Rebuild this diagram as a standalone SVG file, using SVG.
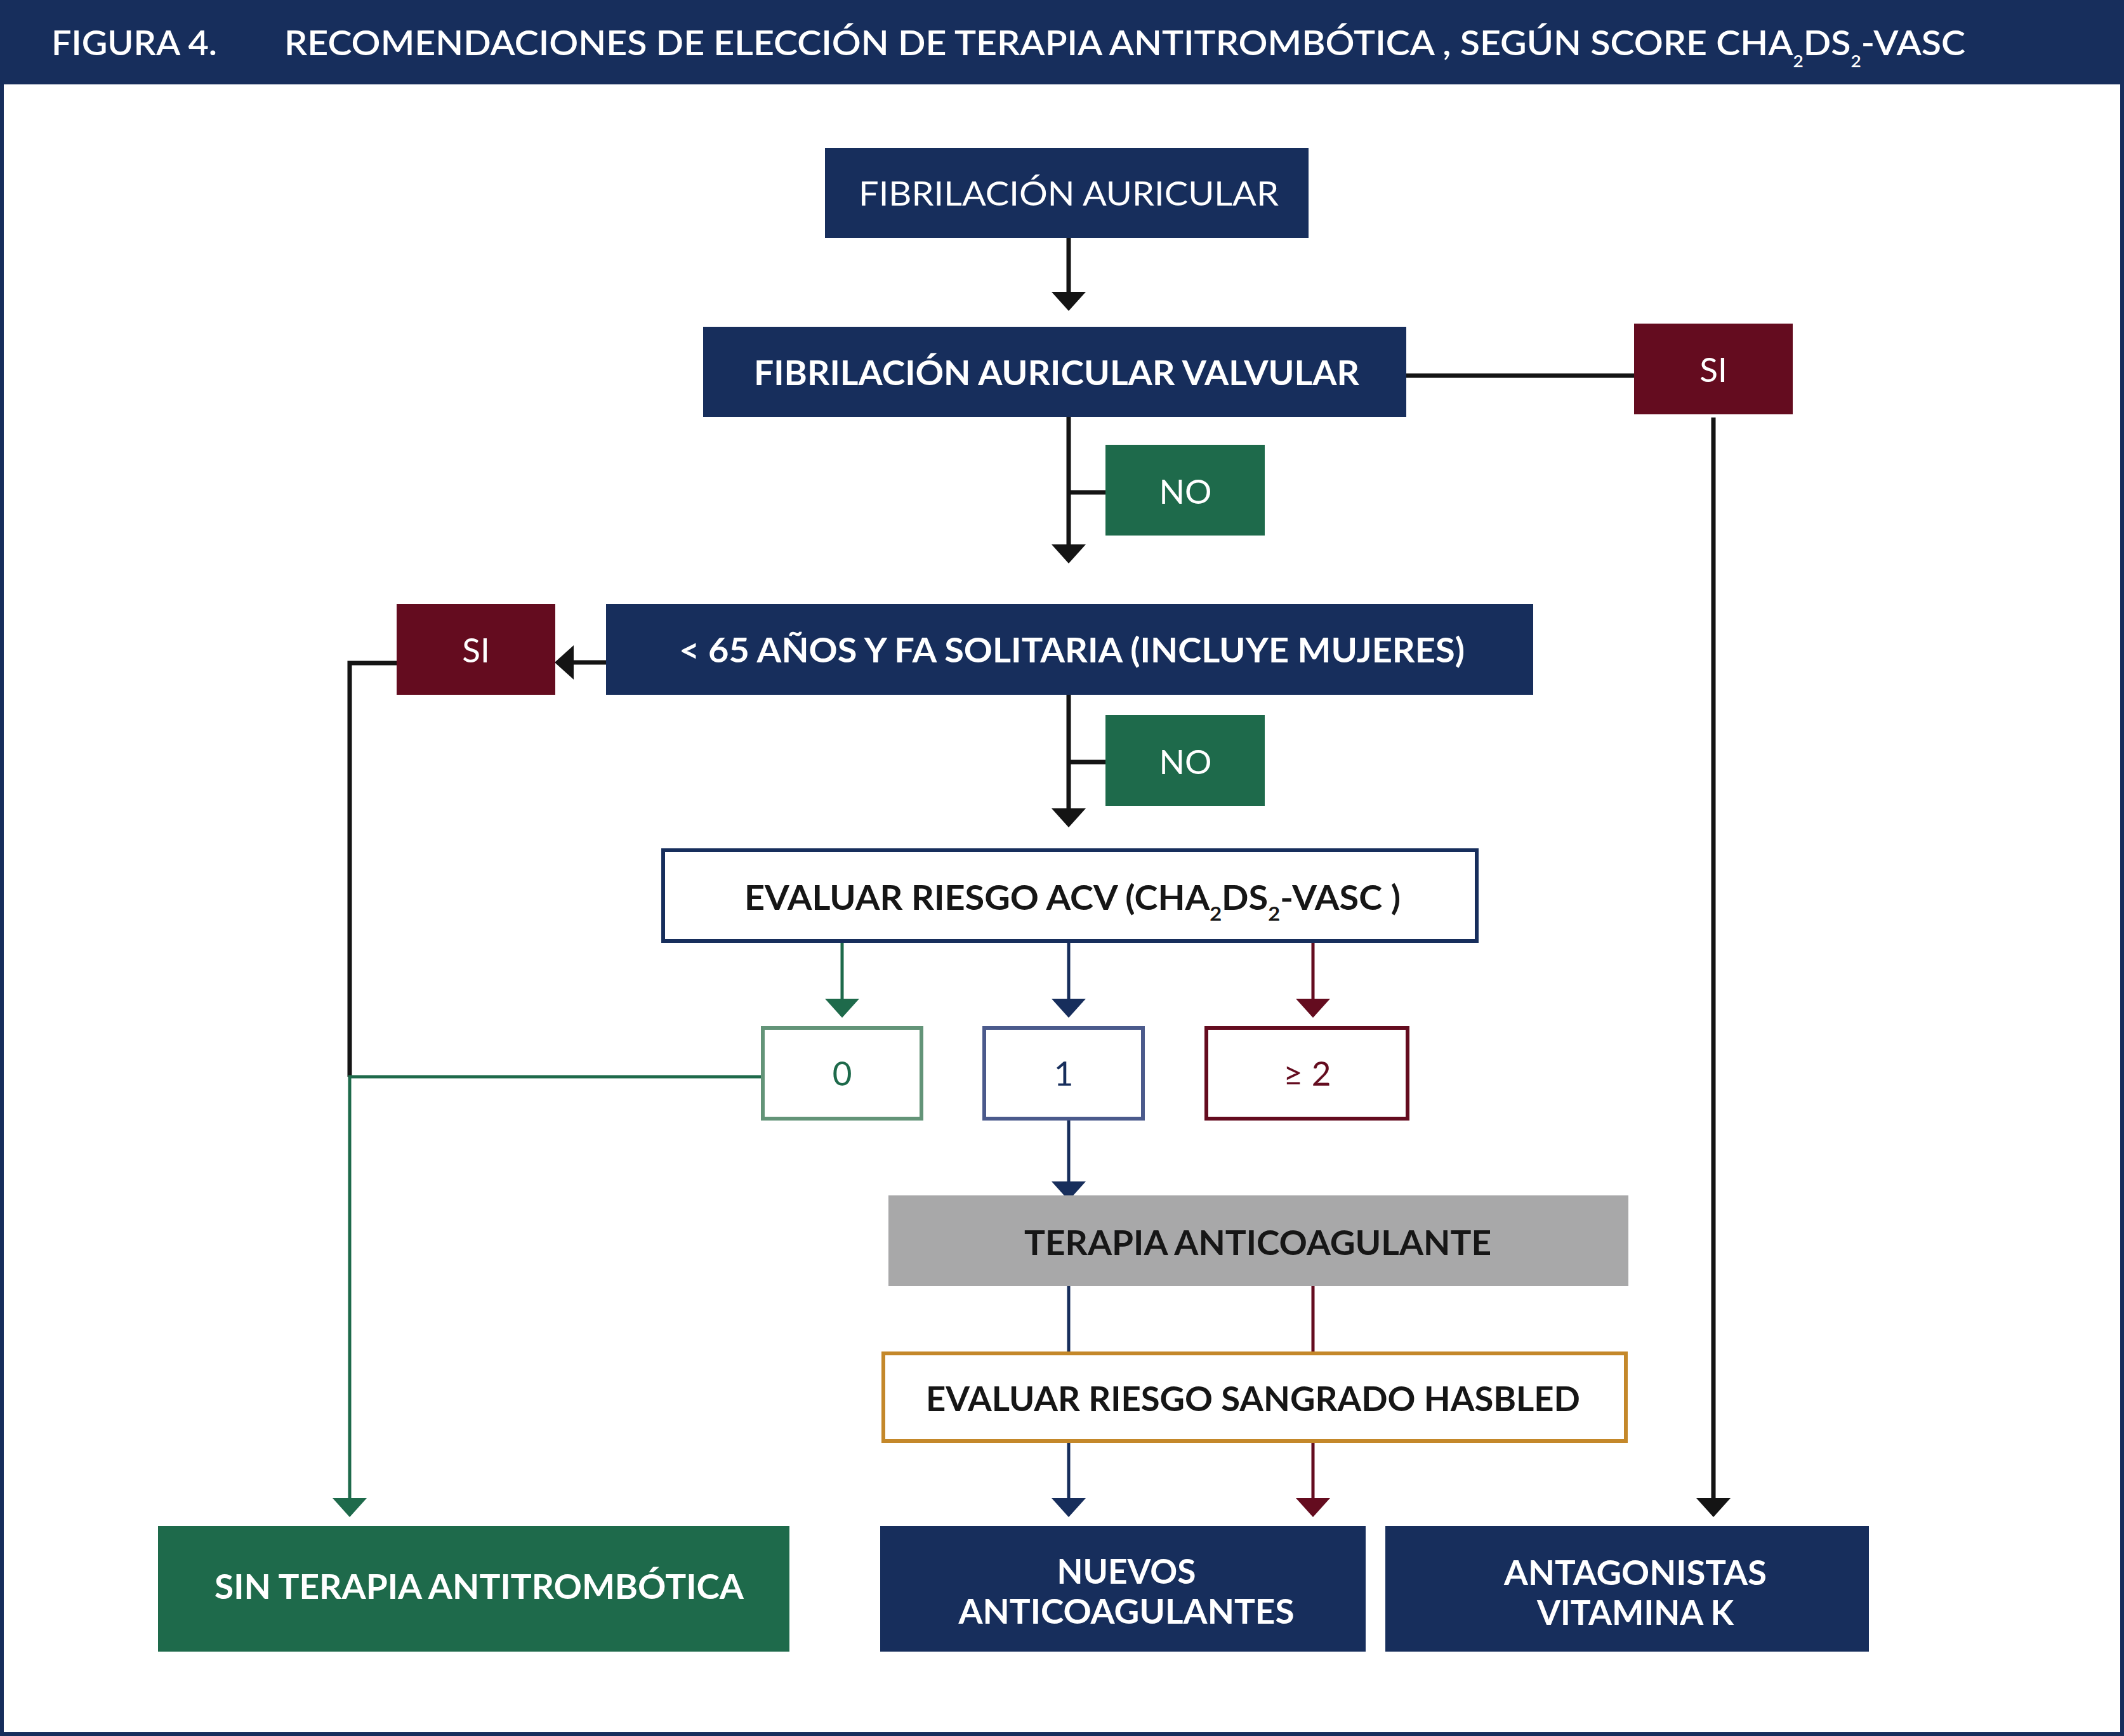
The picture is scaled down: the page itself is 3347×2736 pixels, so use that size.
<svg xmlns="http://www.w3.org/2000/svg" width="3347" height="2736" viewBox="0 0 3347 2736">
<style>
.t{font-family:Lato,"Open Sans","Liberation Sans",sans-serif;font-size:53px;}
.w{fill:#ffffff;}
.k{fill:#161616;}
.b{font-weight:700;}
.r{font-weight:400;}
.navy{fill:#172e5c;}
.red{fill:#640c1f;}
.green{fill:#1e6a4b;}
.gray{fill:#a8a8a9;}
.blk{stroke:#141414;stroke-width:7;fill:none;}
.cg{stroke:#1e6a4b;stroke-width:5;fill:none;}
.cn{stroke:#172e5c;stroke-width:5;fill:none;}
.cr{stroke:#640c1f;stroke-width:5;fill:none;}
</style>
<defs>
<marker id="ak" markerUnits="userSpaceOnUse" markerWidth="31" markerHeight="56" viewBox="0 -28 31 56" refX="0" refY="0" orient="auto"><path d="M0,-27 L30,0 L0,27 Z" fill="#141414"/></marker>
<marker id="ag" markerUnits="userSpaceOnUse" markerWidth="31" markerHeight="56" viewBox="0 -28 31 56" refX="0" refY="0" orient="auto"><path d="M0,-27 L30,0 L0,27 Z" fill="#1e6a4b"/></marker>
<marker id="an" markerUnits="userSpaceOnUse" markerWidth="31" markerHeight="56" viewBox="0 -28 31 56" refX="0" refY="0" orient="auto"><path d="M0,-27 L30,0 L0,27 Z" fill="#172e5c"/></marker>
<marker id="ar" markerUnits="userSpaceOnUse" markerWidth="31" markerHeight="56" viewBox="0 -28 31 56" refX="0" refY="0" orient="auto"><path d="M0,-27 L30,0 L0,27 Z" fill="#640c1f"/></marker>
</defs>
<rect x="0" y="0" width="3347" height="2736" fill="#ffffff"/>
<rect x="3" y="3" width="3341" height="2730" fill="none" stroke="#172e5c" stroke-width="6"/>
<g id="header">
<rect x="0" y="0" width="3347" height="133" class="navy"/>
<text class="t w" font-weight="600" font-size="58" x="81" y="87" textLength="261" lengthAdjust="spacingAndGlyphs">FIGURA 4.</text>
<text class="t w" font-weight="600" font-size="58" x="448" y="87" textLength="2649" lengthAdjust="spacingAndGlyphs">RECOMENDACIONES DE ELECCIÓN DE TERAPIA ANTITROMBÓTICA , SEGÚN SCORE CHA<tspan font-size="26" dy="19">2</tspan><tspan dy="-19">DS</tspan><tspan font-size="26" dy="19">2</tspan><tspan dy="-19">-VASC</tspan></text>
</g>
<g id="connectors">
<path class="blk" d="M1684,375 V460" marker-end="url(#ak)"/>
<path class="blk" d="M2216,592 H2575"/>
<path class="blk" d="M1684,657 V858" marker-end="url(#ak)"/>
<path class="blk" d="M1684,776 H1742"/>
<path class="blk" d="M2700,658 V2361" marker-end="url(#ak)"/>
<path class="blk" d="M955,1044 H904" marker-end="url(#ak)"/>
<path class="blk" d="M625,1045 H551 V1697"/>
<path class="blk" d="M1684,1095 V1274" marker-end="url(#ak)"/>
<path class="blk" d="M1684,1201 H1742"/>
<path class="cg" d="M1199,1697 H551 V2361" stroke-width="6" marker-end="url(#ag)"/>
<path class="cg" d="M1327,1486 V1574" marker-end="url(#ag)"/>
<path class="cn" d="M1684,1486 V1574" marker-end="url(#an)"/>
<path class="cr" d="M2069,1486 V1574" marker-end="url(#ar)"/>
<path class="cn" d="M1684,1765 V1862" marker-end="url(#an)"/>
<path class="cn" d="M1684,2027 V2130"/>
<path class="cr" d="M2069,2027 V2130"/>
<path class="cn" d="M1684,2274 V2361" marker-end="url(#an)"/>
<path class="cr" d="M2069,2274 V2361" marker-end="url(#ar)"/>
</g>
<g id="n1">
<rect x="1300" y="233" width="762" height="142" class="navy"/>
<text class="t w r" x="1353" y="324" textLength="662" lengthAdjust="spacingAndGlyphs">FIBRILACIÓN AURICULAR</text>
</g>
<g id="n2">
<rect x="1108" y="515" width="1108" height="142" class="navy"/>
<text class="t w b" x="1188" y="607" textLength="954" lengthAdjust="spacingAndGlyphs">FIBRILACIÓN AURICULAR VALVULAR</text>
</g>
<g id="si1">
<rect x="2575" y="510" width="250" height="143" class="red"/>
<text class="t w r" x="2700" y="602" text-anchor="middle">SI</text>
</g>
<g id="no1">
<rect x="1742" y="701" width="251" height="143" class="green"/>
<text class="t w r" x="1868" y="794" text-anchor="middle">NO</text>
</g>
<g id="n3">
<rect x="955" y="952" width="1461" height="143" class="navy"/>
<text class="t w b" x="1070" y="1044" textLength="1238" lengthAdjust="spacingAndGlyphs">&lt; 65 AÑOS Y FA SOLITARIA (INCLUYE MUJERES)</text>
</g>
<g id="si2">
<rect x="625" y="952" width="250" height="143" class="red"/>
<text class="t w r" x="750" y="1044" text-anchor="middle">SI</text>
</g>
<g id="no2">
<rect x="1742" y="1127" width="251" height="143" class="green"/>
<text class="t w r" x="1868" y="1220" text-anchor="middle">NO</text>
</g>
<g id="n4">
<rect x="1045" y="1340" width="1282" height="143" fill="#ffffff" stroke="#172e5c" stroke-width="6"/>
<text class="t k b" x="1173" y="1434" textLength="1034" lengthAdjust="spacingAndGlyphs">EVALUAR RIESGO ACV (CHA<tspan font-size="31" dy="17">2</tspan><tspan dy="-17">DS</tspan><tspan font-size="31" dy="17">2</tspan><tspan dy="-17">-VASC )</tspan></text>
</g>
<g id="s0">
<rect x="1202" y="1620" width="250" height="143" fill="#ffffff" stroke="#639478" stroke-width="6"/>
<text class="t r" fill="#1e6a4b" x="1327" y="1711" text-anchor="middle">0</text>
</g>
<g id="s1">
<rect x="1551" y="1620" width="250" height="143" fill="#ffffff" stroke="#4b5a8c" stroke-width="6"/>
<text class="t r" fill="#172e5c" x="1676" y="1711" text-anchor="middle">1</text>
</g>
<g id="s2">
<rect x="1901" y="1620" width="317" height="143" fill="#ffffff" stroke="#640c1f" stroke-width="6"/>
<text class="t r" fill="#640c1f" x="2060" y="1711" text-anchor="middle">≥ 2</text>
</g>
<g id="n5">
<rect x="1400" y="1884" width="1166" height="143" class="gray"/>
<text class="t k b" x="1614" y="1978" textLength="736" lengthAdjust="spacingAndGlyphs">TERAPIA ANTICOAGULANTE</text>
</g>
<g id="n6">
<rect x="1392" y="2133" width="1170" height="138" fill="#ffffff" stroke="#c4882a" stroke-width="6"/>
<text class="t k b" x="1459" y="2224" textLength="1031" lengthAdjust="spacingAndGlyphs">EVALUAR RIESGO SANGRADO HASBLED</text>
</g>
<g id="n7">
<rect x="249" y="2405" width="995" height="198" class="green"/>
<text class="t w b" x="338" y="2520" textLength="834" lengthAdjust="spacingAndGlyphs">SIN TERAPIA ANTITROMBÓTICA</text>
</g>
<g id="n8">
<rect x="1387" y="2405" width="765" height="198" class="navy"/>
<text class="t w b" x="1775" y="2496" text-anchor="middle" textLength="219" lengthAdjust="spacingAndGlyphs">NUEVOS</text>
<text class="t w b" x="1775" y="2559" text-anchor="middle" textLength="529" lengthAdjust="spacingAndGlyphs">ANTICOAGULANTES</text>
</g>
<g id="n9">
<rect x="2183" y="2405" width="762" height="198" class="navy"/>
<text class="t w b" x="2577" y="2498" text-anchor="middle" textLength="414" lengthAdjust="spacingAndGlyphs">ANTAGONISTAS</text>
<text class="t w b" x="2577" y="2561" text-anchor="middle" textLength="310" lengthAdjust="spacingAndGlyphs">VITAMINA K</text>
</g>
</svg>
